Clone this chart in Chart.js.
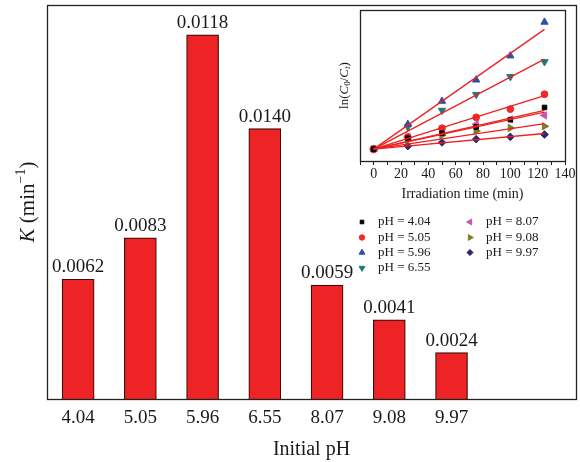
<!DOCTYPE html>
<html>
<head>
<meta charset="utf-8">
<script src="https://cdn.jsdelivr.net/npm/chart.js@4"></script>
<style>
  html, body { margin: 0; padding: 0; background: #fff; }
  #wrap { position: relative; width: 580px; height: 462px; }
  #main { position: absolute; left: 0; top: 0; }
  #inset { position: absolute; left: 330px; top: 5px; }
</style>
</head>
<body>
<div id="wrap">
  <canvas id="main" width="580" height="462"></canvas>
  <canvas id="inset" width="248" height="280"></canvas>
</div>
<script>
// Main bars: rate constant K for each initial pH
const phLabels = ['4.04', '5.05', '5.96', '6.55', '8.07', '9.08', '9.97'];
const kValues = [0.0062, 0.00834, 0.01885, 0.0140, 0.0059, 0.0041, 0.0024];
const kLabels = ['0.0062', '0.0083', '0.0118', '0.0140', '0.0059', '0.0041', '0.0024'];

// Inset: ln(C0/Ct) against irradiation time, one list per pH
const times = [0, 25, 50, 75, 100, 125];
const ln404 = [0, 0.11, 0.16, 0.223, 0.297, 0.42];
const ln505 = [0, 0.123, 0.21, 0.32, 0.403, 0.553];
const ln596 = [0, 0.25, 0.483, 0.697, 0.94, 1.28];
const ln655 = [0, 0.223, 0.39, 0.55, 0.73, 0.88];
const ln807 = [0, 0.123, 0.20, 0.25, 0.30, 0.34];
const ln908 = [0, 0.09, 0.14, 0.183, 0.213, 0.23];
const ln997 = [0, 0.03, 0.067, 0.10, 0.123, 0.147];
// fitted line value at t = 125 (lines start at the origin)
const fitEnds = [0.39, 0.54, 1.207, 0.907, 0.373, 0.257, 0.157];

const SERIF = "'Liberation Serif', 'Times New Roman', serif";
const INK = '#1a1a1a';

// ---------- main chart ----------
const barLabelPlugin = {
  id: 'barLabels',
  afterDatasetsDraw(chart) {
    const ctx = chart.ctx;
    ctx.save();
    ctx.fillStyle = INK;
    ctx.font = `19px ${SERIF}`;
    ctx.textAlign = 'center';
    ctx.textBaseline = 'alphabetic';
    chart.getDatasetMeta(0).data.forEach((bar, i) => {
      ctx.fillText(kLabels[i], bar.x, bar.y - 7);
    });
    ctx.restore();
  }
};

const framePlugin = {
  id: 'frame',
  afterDraw(chart) {
    const { left, top, right, bottom } = chart.chartArea;
    const ctx = chart.ctx;
    ctx.save();
    ctx.strokeStyle = '#222';
    ctx.lineWidth = 1.3;
    ctx.strokeRect(Math.round(left) + 0.5, Math.round(top) + 0.5,
      Math.round(right - left), Math.round(bottom - top));
    ctx.restore();
  }
};

// Draws runs of text with their own font and baseline shift, centred on (x, y), rotated.
function drawRuns(ctx, runs, x, y, angle) {
  ctx.save();
  ctx.translate(x, y);
  ctx.rotate(angle);
  ctx.textBaseline = 'middle';
  ctx.textAlign = 'left';
  let total = 0;
  runs.forEach((r) => { ctx.font = r.font; total += ctx.measureText(r.text).width; });
  let cx = -total / 2;
  runs.forEach((r) => {
    ctx.font = r.font;
    ctx.fillText(r.text, cx, r.dy || 0);
    cx += ctx.measureText(r.text).width;
  });
  ctx.restore();
}

const yTitlePlugin = {
  id: 'yTitle',
  afterDraw(chart) {
    const ctx = chart.ctx;
    ctx.fillStyle = INK;
    const mid = (chart.chartArea.top + chart.chartArea.bottom) / 2;
    drawRuns(ctx, [
      { text: 'K', font: `italic 21px ${SERIF}` },
      { text: ' (min', font: `21px ${SERIF}` },
      { text: '\u22121', font: `14px ${SERIF}`, dy: -7 },
      { text: ')', font: `21px ${SERIF}` }
    ], 28, mid, -Math.PI / 2);
  }
};

new Chart(document.getElementById('main'), {
  type: 'bar',
  data: {
    datasets: [{
      data: kValues.map((v, i) => ({ x: i + 1, y: v })),
      backgroundColor: '#ee2326',
      borderColor: '#3b0b0b',
      borderWidth: 1.2,
      barThickness: 32
    }]
  },
  options: {
    responsive: false,
    animation: false,
    layout: { padding: { left: 47, top: 5, right: 4, bottom: 0 } },
    plugins: { legend: { display: false }, tooltip: { enabled: false } },
    scales: {
      x: {
        type: 'linear',
        min: 0.5,
        max: 9,
        offset: false,
        grid: { display: false },
        border: { display: false },
        afterBuildTicks: (s) => { s.ticks = phLabels.map((_, i) => ({ value: i + 1 })); },
        ticks: {
          autoSkip: false,
          maxRotation: 0,
          padding: 0,
          color: INK,
          font: { family: SERIF, size: 19 },
          callback: (v) => phLabels[Math.round(v) - 1]
        },
        title: {
          display: true,
          text: 'Initial pH',
          color: INK,
          font: { family: SERIF, size: 20 },
          padding: { top: 0, bottom: 0 }
        },
        afterFit: (s) => { s.height = 63; }
      },
      y: { display: false, min: 0, max: 0.0204 }
    }
  },
  plugins: [barLabelPlugin, framePlugin, yTitlePlugin]
});

// ---------- inset ----------
const seriesNames = ['pH = 4.04', 'pH = 5.05', 'pH = 5.96', 'pH = 6.55', 'pH = 8.07', 'pH = 9.08', 'pH = 9.97'];
const seriesData = [ln404, ln505, ln596, ln655, ln807, ln908, ln997];
const seriesColors = ['#000000', '#ee2a2a', '#2f4fa6', '#1d7b7a', '#c455b5', '#7d7b2e', '#27296e'];
const seriesStyles = ['rect', 'circle', 'triangle', 'triangle', 'triangle', 'triangle', 'rectRot'];
const seriesRotation = [0, 0, 0, 180, -90, 90, 0];
const seriesRadius = [3.2, 3.4, 4.2, 4.2, 4.2, 4.2, 3.8];

const pointSets = seriesData.map((vals, i) => ({
  label: seriesNames[i],
  data: times.map((t, j) => ({ x: t, y: vals[j] })),
  showLine: false,
  pointStyle: seriesStyles[i],
  rotation: seriesRotation[i],
  pointRadius: seriesRadius[i],
  pointBackgroundColor: seriesColors[i],
  pointBorderColor: seriesColors[i],
  pointBorderWidth: 1,
  order: 2
}));

const fitSets = fitEnds.map((v) => ({
  data: [{ x: 0, y: 0 }, { x: 125, y: v }],
  showLine: true,
  borderColor: '#ee2020',
  borderWidth: 1.3,
  pointRadius: 0,
  order: 1
}));

const insetTextPlugin = {
  id: 'insetText',
  afterDraw(chart) {
    const ctx = chart.ctx;
    const area = chart.chartArea;
    ctx.save();
    ctx.fillStyle = INK;
    // y title
    drawRuns(ctx, [
      { text: 'ln(', font: `13px ${SERIF}` },
      { text: 'C', font: `italic 13px ${SERIF}` },
      { text: '0', font: `9px ${SERIF}`, dy: 3 },
      { text: '/', font: `13px ${SERIF}` },
      { text: 'C', font: `italic 13px ${SERIF}` },
      { text: 't', font: `italic 9px ${SERIF}`, dy: 3 },
      { text: ')', font: `13px ${SERIF}` }
    ], 15, (area.top + area.bottom) / 2, -Math.PI / 2);
    // x title
    ctx.font = `14px ${SERIF}`;
    ctx.textAlign = 'center';
    ctx.textBaseline = 'middle';
    ctx.fillText('Irradiation time (min)', (area.left + area.right) / 2, 189);
    // legend, column by column
    ctx.font = `13px ${SERIF}`;
    ctx.textAlign = 'left';
    const colX = [32, 140];
    const rowY = [217, 232.5, 247.5, 263];
    seriesNames.forEach((name, i) => {
      const col = i < 4 ? 0 : 1;
      const row = i < 4 ? i : i - 4;
      const x = colX[col];
      const y = rowY[row];
      ctx.fillStyle = seriesColors[i];
      ctx.strokeStyle = seriesColors[i];
      if (Chart.helpers && Chart.helpers.drawPoint) {
        Chart.helpers.drawPoint(ctx, {
          pointStyle: seriesStyles[i],
          radius: seriesRadius[i] * 0.8,
          rotation: seriesRotation[i],
          borderWidth: 1
        }, x, y);
      } else {
        ctx.beginPath();
        ctx.arc(x, y, 2.5, 0, Math.PI * 2);
        ctx.fill();
      }
      ctx.fillStyle = INK;
      ctx.fillText(name, x + 16, y);
    });
    ctx.restore();
  }
};

new Chart(document.getElementById('inset'), {
  type: 'scatter',
  data: { datasets: [...pointSets, ...fitSets] },
  options: {
    responsive: false,
    animation: false,
    layout: { padding: { left: 30, top: 4, right: 13, bottom: 0 } },
    plugins: { legend: { display: false }, tooltip: { enabled: false } },
    scales: {
      x: {
        type: 'linear',
        min: -10,
        max: 140,
        border: { display: false },
        grid: { drawOnChartArea: false, drawTicks: true, tickLength: 4, color: '#222' },
        ticks: {
          stepSize: 10,
          autoSkip: false,
          maxRotation: 0,
          padding: 1,
          color: INK,
          font: { family: SERIF, size: 14 },
          callback: (v) => (v >= 0 && v % 20 === 0 ? String(v) : '')
        },
        afterFit: (s) => { s.height = 124; }
      },
      y: { display: false, min: -0.12, max: 1.40 }
    }
  },
  plugins: [framePlugin, insetTextPlugin]
});
</script>
</body>
</html>
